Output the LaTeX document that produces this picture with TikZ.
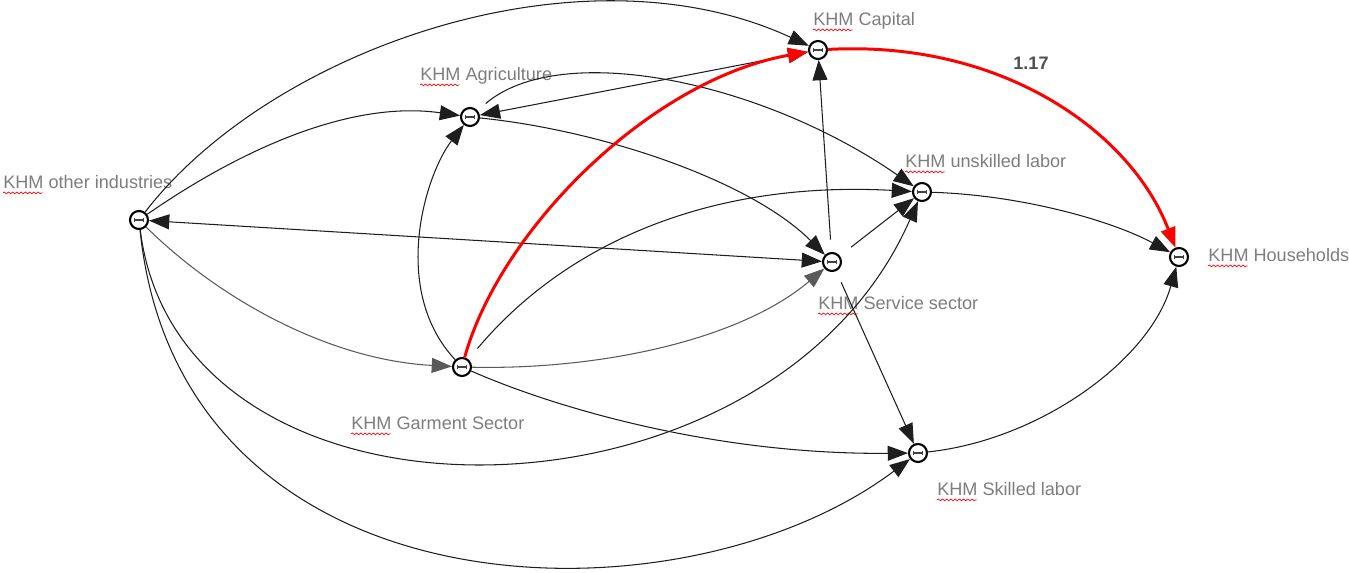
\documentclass[tikz,border=0pt]{standalone}
\usepackage{fontspec}
\setmainfont{Liberation Sans}
\usetikzlibrary{arrows.meta,decorations.pathmorphing}
\definecolor{labc}{RGB}{125,125,125}
\definecolor{valc}{RGB}{80,80,80}
\definecolor{edgec}{RGB}{30,30,30}
\definecolor{edgeg}{RGB}{90,90,90}
\definecolor{hlc}{RGB}{255,0,0}
\tikzset{
  vtx/.style={circle,draw=black,line width=1.2pt,fill=white,minimum size=0.36cm,inner sep=0pt,
    path picture={
      \draw[line width=0.6pt,black!75] ([xshift=-2.6pt]path picture bounding box.center) -- ([xshift=2.6pt]path picture bounding box.center);
      \draw[line width=0.5pt,black!75] ([shift={(-2.6pt,-1.3pt)}]path picture bounding box.center) -- ++(0,2.6pt);
      \draw[line width=0.5pt,black!75] ([shift={(2.6pt,-1.3pt)}]path picture bounding box.center) -- ++(0,2.6pt);
    }},
  lbl/.style={anchor=base west,inner sep=0pt,text=labc,font=\fontsize{10.3}{12}\selectfont},
  valstyle/.style={anchor=base west,inner sep=0pt,text=valc,font=\fontsize{10.3}{12}\selectfont\bfseries},
  edg/.style={draw=edgec,line width=0.6pt,>={Triangle[length=11.5pt,width=8.5pt]}},
  edggrey/.style={draw=edgeg,line width=0.6pt,>={Triangle[length=11.5pt,width=8.5pt,fill=edgeg]}},
  hledg/.style={draw=hlc,line width=1.7pt,>={Triangle[length=11.5pt,width=8.5pt]}},
  wavy/.style={draw=red,line width=0.4pt,decorate,decoration={snake,amplitude=0.5pt,segment length=2.4pt}},
}
\begin{document}
\begin{tikzpicture}[x=0.02cm,y=-0.02cm]
\useasboundingbox (0,0) rectangle (1349,573);
% vertices
\node[vtx] (cap) at (818,50) {};
\node[vtx] (agr) at (470,117) {};
\node[vtx] (oth) at (139,220) {};
\node[vtx] (uns) at (922,192) {};
\node[vtx] (ser) at (832,262) {};
\node[vtx] (hh)  at (1179,257) {};
\node[vtx] (gar) at (462,367) {};
\node[vtx] (ski) at (918,453) {};
% labels
\node[lbl] (lcap) at (813,26) {KHM Capital};
\node[lbl] (lagr) at (420,81) {KHM Agriculture};
\node[lbl] (loth) at (3,189) {KHM other industries};
\node[lbl] (luns) at (905,168) {KHM unskilled labor};
\node[lbl] (lser) at (818,310) {KHM Service sector};
\node[lbl] (lhh)  at (1208,262) {KHM Households};
\node[lbl] (lgar) at (351,430) {KHM Garment Sector};
\node[lbl] (lski) at (937,496) {KHM Skilled labor};
\node[valstyle] (val) at (1013,70) {1.17};
\foreach \l in {lcap,lagr,loth,luns,lser,lhh,lgar,lski}
  \draw[wavy] ([yshift=-2.2pt]\l.base west) -- ++(40,0);
% edges from other industries
\draw[edg,->] (oth) .. controls (270,50) and (580,-60) .. (cap);
\draw[edg,->] (oth) .. controls (240,150) and (350,100) .. (agr);
\draw[edg,<->] (oth) -- (ser);
\draw[edggrey,->] (oth) .. controls (220,300) and (330,360) .. (gar);
\draw[edg,->] (oth) .. controls (180,550) and (770,540) .. (uns);
\draw[edg,->] (oth) .. controls (180,620) and (680,632) .. (ski);
% edges from garment
\draw[edg,->] (gar) .. controls (390,290) and (425,175) .. (agr);
\draw[edg,->,shorten <=8pt] (gar) .. controls (560,250) and (700,180) .. (uns);
\draw[edggrey,->] (gar) .. controls (600,370) and (740,340) .. (ser);
\draw[edg,->] (gar) .. controls (560,410) and (720,455) .. (ski);
% edges from agriculture
\draw[edg,<->] (agr) -- (cap);
\draw[edg,->] (agr) .. controls (600,130) and (750,180) .. (ser);
\draw[edg,->,shorten <=6pt] (agr) .. controls (560,40) and (760,80) .. (uns);
% edges from service
\draw[edg,->,shorten <=7pt] (ser) -- (cap);
\draw[edg,->,shorten <=8pt] (ser) -- (uns);
\draw[edg,->,shorten <=7pt] (ser) -- (ski);
% edges to households
\draw[edg,->] (uns) .. controls (1020,195) and (1110,220) .. (hh);
\draw[edg,->] (ski) .. controls (1040,440) and (1150,360) .. (hh);
% highlighted path
\draw[hledg,->] (gar) .. controls (500,230) and (650,80) .. (cap);
\draw[hledg,->] (cap) .. controls (1000,40) and (1130,130) .. (hh);
\end{tikzpicture}
\end{document}
